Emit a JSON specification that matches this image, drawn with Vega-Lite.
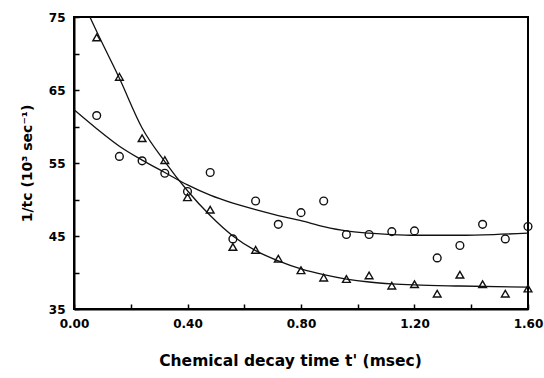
{
  "$schema": "https://vega.github.io/schema/vega-lite/v6.json",
  "autosize": "none",
  "width": 454,
  "height": 292,
  "padding": {"left": 74, "top": 17, "right": 16, "bottom": 69},
  "background": "white",
  "config": {
    "view": {"stroke": "black", "strokeWidth": 2},
    "axis": {
      "domainColor": "black",
      "domainWidth": 2,
      "tickColor": "black",
      "tickWidth": 1.5,
      "tickSize": -5,
      "grid": false,
      "labelFont": "DejaVu Sans",
      "labelFontWeight": "bold",
      "labelFontSize": 12,
      "labelColor": "black",
      "titleFont": "DejaVu Sans",
      "titleFontWeight": "bold",
      "titleFontSize": 14,
      "titleColor": "black"
    }
  },
  "datasets": {
    "obs": [
      {"t": 0.08, "series": "tri", "v": 72.2},
      {"t": 0.16, "series": "tri", "v": 66.8},
      {"t": 0.24, "series": "tri", "v": 58.4},
      {"t": 0.32, "series": "tri", "v": 55.4},
      {"t": 0.40, "series": "tri", "v": 50.3},
      {"t": 0.48, "series": "tri", "v": 48.6},
      {"t": 0.56, "series": "tri", "v": 43.5},
      {"t": 0.64, "series": "tri", "v": 43.1},
      {"t": 0.72, "series": "tri", "v": 41.9},
      {"t": 0.80, "series": "tri", "v": 40.3},
      {"t": 0.88, "series": "tri", "v": 39.3},
      {"t": 0.96, "series": "tri", "v": 39.1},
      {"t": 1.04, "series": "tri", "v": 39.6},
      {"t": 1.12, "series": "tri", "v": 38.2},
      {"t": 1.20, "series": "tri", "v": 38.4},
      {"t": 1.28, "series": "tri", "v": 37.1},
      {"t": 1.36, "series": "tri", "v": 39.7},
      {"t": 1.44, "series": "tri", "v": 38.4},
      {"t": 1.52, "series": "tri", "v": 37.1},
      {"t": 1.60, "series": "tri", "v": 37.8},
      {"t": 0.08, "series": "circ", "v": 61.5},
      {"t": 0.16, "series": "circ", "v": 55.9},
      {"t": 0.24, "series": "circ", "v": 55.3},
      {"t": 0.32, "series": "circ", "v": 53.6},
      {"t": 0.40, "series": "circ", "v": 51.1},
      {"t": 0.48, "series": "circ", "v": 53.7},
      {"t": 0.56, "series": "circ", "v": 44.6},
      {"t": 0.64, "series": "circ", "v": 49.8},
      {"t": 0.72, "series": "circ", "v": 46.6},
      {"t": 0.80, "series": "circ", "v": 48.2},
      {"t": 0.88, "series": "circ", "v": 49.8},
      {"t": 0.96, "series": "circ", "v": 45.2},
      {"t": 1.04, "series": "circ", "v": 45.2},
      {"t": 1.12, "series": "circ", "v": 45.6},
      {"t": 1.20, "series": "circ", "v": 45.7},
      {"t": 1.28, "series": "circ", "v": 42.0},
      {"t": 1.36, "series": "circ", "v": 43.7},
      {"t": 1.44, "series": "circ", "v": 46.6},
      {"t": 1.52, "series": "circ", "v": 44.6},
      {"t": 1.60, "series": "circ", "v": 46.3}
    ],
    "fit": [
      {"t": 0.0, "series": "circ", "v": 62.3},
      {"t": 0.08, "series": "circ", "v": 59.7},
      {"t": 0.16, "series": "circ", "v": 57.3},
      {"t": 0.24, "series": "circ", "v": 55.4},
      {"t": 0.32, "series": "circ", "v": 53.7},
      {"t": 0.40, "series": "circ", "v": 52.0},
      {"t": 0.48, "series": "circ", "v": 50.6},
      {"t": 0.56, "series": "circ", "v": 49.5},
      {"t": 0.64, "series": "circ", "v": 48.6},
      {"t": 0.72, "series": "circ", "v": 47.8},
      {"t": 0.80, "series": "circ", "v": 47.1},
      {"t": 0.88, "series": "circ", "v": 46.3},
      {"t": 0.96, "series": "circ", "v": 45.7},
      {"t": 1.04, "series": "circ", "v": 45.4},
      {"t": 1.12, "series": "circ", "v": 45.2},
      {"t": 1.20, "series": "circ", "v": 45.1},
      {"t": 1.36, "series": "circ", "v": 45.1},
      {"t": 1.48, "series": "circ", "v": 45.2},
      {"t": 1.60, "series": "circ", "v": 45.4},
      {"t": 0.056, "series": "tri", "v": 75.0},
      {"t": 0.08, "series": "tri", "v": 73.0},
      {"t": 0.16, "series": "tri", "v": 66.6},
      {"t": 0.24, "series": "tri", "v": 59.8},
      {"t": 0.32, "series": "tri", "v": 55.2},
      {"t": 0.40, "series": "tri", "v": 51.2},
      {"t": 0.48, "series": "tri", "v": 47.8},
      {"t": 0.56, "series": "tri", "v": 45.0},
      {"t": 0.64, "series": "tri", "v": 43.0},
      {"t": 0.72, "series": "tri", "v": 41.6},
      {"t": 0.80, "series": "tri", "v": 40.5},
      {"t": 0.88, "series": "tri", "v": 39.7},
      {"t": 0.96, "series": "tri", "v": 39.1},
      {"t": 1.04, "series": "tri", "v": 38.7},
      {"t": 1.12, "series": "tri", "v": 38.45},
      {"t": 1.20, "series": "tri", "v": 38.3},
      {"t": 1.36, "series": "tri", "v": 38.15},
      {"t": 1.60, "series": "tri", "v": 38.0}
    ]
  },
  "encoding": {
    "x": {
      "field": "t",
      "type": "quantitative",
      "scale": {"domain": [0, 1.6], "nice": false},
      "axis": {
        "title": "Chemical decay time t' (msec)",
        "titleFontSize": 15.5,
        "titleX": 216,
        "titleAnchor": "middle",
        "values": [0, 0.2, 0.4, 0.6, 0.8, 1.0, 1.2, 1.4, 1.6],
        "labelExpr": "round(datum.value*10) % 4 == 0 ? format(datum.value, '.2f') : ''",
        "labelPadding": 14,
        "titlePadding": 24,
        "labelFlush": false
      }
    },
    "y": {
      "field": "v",
      "type": "quantitative",
      "scale": {"domain": [35, 75], "nice": false, "zero": false},
      "axis": {
        "title": "1/tc (10³ sec⁻¹)",
        "values": [35, 40, 45, 50, 55, 60, 65, 70, 75],
        "labelExpr": "datum.value % 10 == 5 ? datum.label : ''",
        "labelPadding": 14,
        "titlePadding": 14,
        "labelFlush": false
      }
    }
  },
  "layer": [
    {
      "data": {"name": "fit"},
      "mark": {"type": "line", "color": "#111", "strokeWidth": 1.3, "interpolate": "monotone", "clip": true},
      "encoding": {"detail": {"field": "series"}}
    },
    {
      "data": {"name": "obs"},
      "mark": {"type": "point", "filled": false, "color": "#111", "strokeWidth": 1.4, "size": 60, "opacity": 1},
      "encoding": {
        "shape": {
          "field": "series",
          "type": "nominal",
          "scale": {"domain": ["circ", "tri"], "range": ["circle", "triangle-up"]},
          "legend": null
        }
      }
    }
  ]
}
